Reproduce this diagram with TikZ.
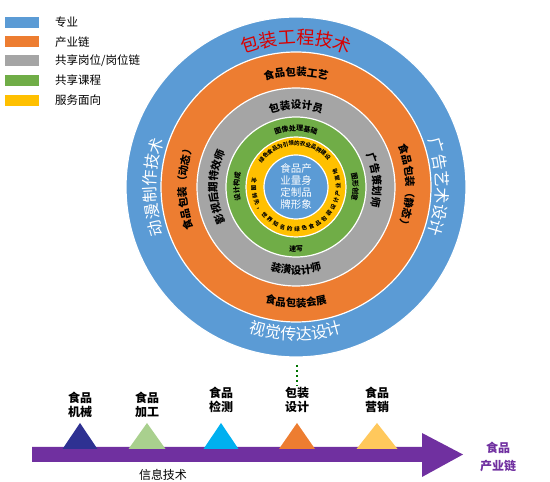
\documentclass[tikz,border=0pt]{standalone}
\usepackage{fontspec}
\setmainfont{Noto Sans CJK SC}
\usetikzlibrary{decorations.text}

\definecolor{zhuanye}{HTML}{5B9BD5}
\definecolor{chanye}{HTML}{ED7D31}
\definecolor{gangwei}{HTML}{A5A5A5}
\definecolor{kecheng}{HTML}{70AD47}
\definecolor{fuwu}{HTML}{FFC000}
\definecolor{lianzi}{HTML}{7030A0}
\definecolor{sanjiao1}{HTML}{2E3192}
\definecolor{sanjiao2}{HTML}{A9D08E}
\definecolor{sanjiao3}{HTML}{00B0F0}
\definecolor{sanjiao4}{HTML}{ED7D31}
\definecolor{sanjiao5}{HTML}{FFC85C}

\tikzset{
  huan/.style={decorate,decoration={text along path,text align=center,text={#1}}},
  biaoqian/.style={font=\fontsize{12}{13.5}\selectfont\bfseries,align=center,inner sep=0pt}
}

\begin{document}
\begin{tikzpicture}[x=1pt,y=1pt]
\useasboundingbox (0,0) rectangle (550,482);
% legend
\foreach \y/\c/\t [count=\i] in {459.5/zhuanye/专业,440/chanye/产业链,421.5/gangwei/{共享岗位/岗位链},401.5/kecheng/共享课程,381.5/fuwu/服务面向}{
  \fill[\c] (5,\y-5.5) rectangle (39,\y+5.5);
  \node[anchor=west,font=\fontsize{11.5}{12}\selectfont,inner sep=0pt] (tuli\i) at (55,\y) {\t};
}
% rings
\coordinate (o) at (296,295);
\foreach \r/\c in {170/zhuanye,135/chanye,99/gangwei,70/kecheng,50/fuwu,32/zhuanye}
  \draw[white,line width=1.2pt,fill=\c] (o) circle (\r pt);
% blue ring
\path[huan={|\fontsize{18}{18}\selectfont\color{red!85!black}|包装工程技术}] ([shift={(150:143pt)}]o) arc[start angle=150,end angle=30,radius=143pt];
\path[huan={|\fontsize{16}{16}\selectfont\color{white}|动漫制作技术}] ([shift={(240:140pt)}]o) arc[start angle=240,end angle=120,radius=140pt];
\path[huan={|\fontsize{16}{16}\selectfont\color{white}|广告艺术设计}] ([shift={(60:140pt)}]o) arc[start angle=60,end angle=-60,radius=140pt];
\path[huan={|\fontsize{16}{16}\selectfont\color{white}|视觉传达设计}] ([shift={(210:153pt)}]o) arc[start angle=210,end angle=330,radius=153pt];
% orange ring
\path[huan={|\fontsize{10.5}{10.5}\selectfont\bfseries|食品包装工艺}] ([shift={(150:111pt)}]o) arc[start angle=150,end angle=30,radius=111pt];
\path[huan={|\fontsize{10.5}{10.5}\selectfont\bfseries|食品包装（动态）}] ([shift={(245:110pt)}]o) arc[start angle=245,end angle=115,radius=110pt];
\path[huan={|\fontsize{10.5}{10.5}\selectfont\bfseries|食品包装（静态）}] ([shift={(65:110pt)}]o) arc[start angle=65,end angle=-65,radius=110pt];
\path[huan={|\fontsize{10.5}{10.5}\selectfont\bfseries|食品包装会展}] ([shift={(210:120pt)}]o) arc[start angle=210,end angle=330,radius=120pt];
% grey ring
\path[huan={|\fontsize{10.5}{10.5}\selectfont\bfseries|包装设计员}] ([shift={(150:78pt)}]o) arc[start angle=150,end angle=30,radius=78pt];
\path[huan={|\fontsize{10.5}{10.5}\selectfont\bfseries|影视后期特效师}] ([shift={(250:79pt)}]o) arc[start angle=250,end angle=110,radius=79pt];
\path[huan={|\fontsize{10.5}{10.5}\selectfont\bfseries|广告策划师}] ([shift={(65:77pt)}]o) arc[start angle=65,end angle=-55,radius=77pt];
\path[huan={|\fontsize{10.5}{10.5}\selectfont\bfseries|装潢设计师}] ([shift={(210:87pt)}]o) arc[start angle=210,end angle=330,radius=87pt];
% green ring
\path[huan={|\fontsize{7}{7}\selectfont\bfseries|图像处理基础}] ([shift={(150:56pt)}]o) arc[start angle=150,end angle=30,radius=56pt];
\path[huan={|\fontsize{7}{7}\selectfont\bfseries|设计构成}] ([shift={(240:57pt)}]o) arc[start angle=240,end angle=120,radius=57pt];
\path[huan={|\fontsize{7}{7}\selectfont\bfseries|图形创意}] ([shift={(60:57pt)}]o) arc[start angle=60,end angle=-60,radius=57pt];
\path[huan={|\fontsize{7}{7}\selectfont\bfseries|速写}] ([shift={(230:64.5pt)}]o) arc[start angle=230,end angle=310,radius=64.5pt];
% yellow ring
\path[huan={|\fontsize{5.5}{5.5}\selectfont\bfseries|绿色食品为引领的农业品牌建设}] ([shift={(175:41.7pt)}]o) arc[start angle=175,end angle=10,radius=41.7pt];
\path[decorate,decoration={text along path,text align=fit to path,text={|\fontsize{5.5}{5.5}\selectfont\bfseries|全国领先，世界知名的绿色食品包装设计产业高地}}] ([shift={(168:44.3pt)}]o) arc[start angle=168,end angle=385,radius=44.3pt];
\node[align=center,text=white,font=\fontsize{10.5}{12}\selectfont,inner sep=0pt] (zhongxin) at (o) {食品产\\业量身\\定制品\\牌形象};
% chain arrow
\fill[lianzi] (32,35) -- (422,35) -- (422,49) -- (463,27.5) -- (422,5) -- (422,20) -- (32,20) -- cycle;
\foreach \x/\w [count=\i] in {80/17.5,147/18.5,221/17.5,297/18,377/20.5}
  \fill[sanjiao\i] (\x-\w,33) -- (\x+\w,33) -- (\x,59) -- cycle;
\foreach \x/\y/\t [count=\i] in {80/77/{食品\\机械},147/77/{食品\\加工},221/82/{食品\\检测},297/82/{包装\\设计},377/82/{食品\\营销}}
  \node[biaoqian] (huanjie\i) at (\x,\y) {\t};
\coordinate (xuxian) at (297,117);
\draw[green!45!black,line width=2.5pt,dash pattern=on 2.5pt off 2.5pt,shorten >=2pt] (xuxian) -- (huanjie4.north);
\node[font=\fontsize{12}{12}\selectfont,inner sep=0pt] (xinxi) at (163,7) {信息技术};
\node[biaoqian,text=lianzi,font=\fontsize{12}{18}\selectfont\bfseries] (lian) at (498,25) {食品\\产业链};
\end{tikzpicture}
\end{document}
